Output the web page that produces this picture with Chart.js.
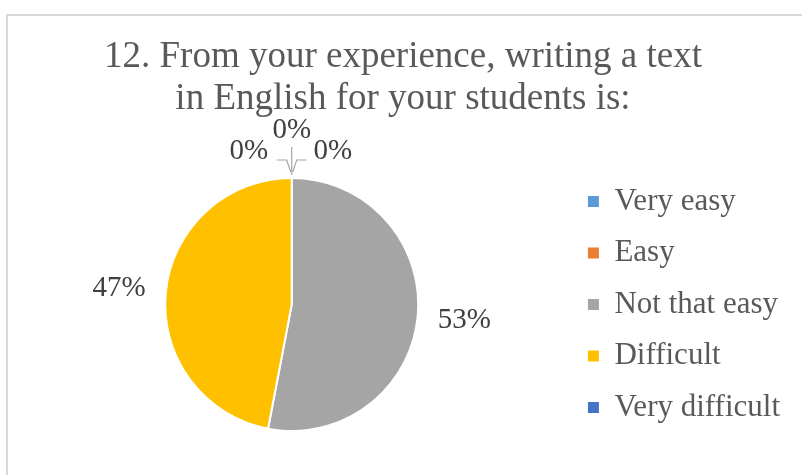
<!DOCTYPE html>
<html>
<head>
<meta charset="utf-8">
<script src="https://cdn.jsdelivr.net/npm/chart.js@4.4.1/dist/chart.umd.min.js"></script>
<style>
  body { margin: 0; background: #fff; overflow: hidden; }
  #frame { position: absolute; left: 6px; top: 14px; width: 900px; height: 600px; border: 2px solid #d9d9d9; box-sizing: border-box; }
  #wrap { position: absolute; left: 0; top: 0; width: 802px; height: 475px; }
</style>
</head>
<body>
<div id="frame"></div>
<div id="wrap"><canvas id="pieChart" width="802" height="475"></canvas></div>
<script>
var titleLines = ['12. From your experience, writing a text', 'in English for your students is:'];
var answers = ['Very easy', 'Easy', 'Not that easy', 'Difficult', 'Very difficult'];
var shares = [0, 0, 53, 47, 0];
var sliceColors = ['#5B9BD5', '#ED7D31', '#A5A5A5', '#FFC000', '#4472C4'];

var serif = '"Times New Roman", "Liberation Serif", serif';

// percent labels outside the pie; empty slices get leader lines at the top
var pieLabels = {
  id: 'pieLabels',
  afterDatasetsDraw: function(chart) {
    var ctx = chart.ctx;
    var meta = chart.getDatasetMeta(0);
    var values = chart.data.datasets[0].data;
    var total = values.reduce(function(a, b) { return a + b; }, 0);
    var zeroSpots = [
      { tx: -43, ty: -27, path: [[-15, -18], [-5, -18], [-1, -6]] },
      { tx: 0, ty: -48, path: [[0, -31], [0, -3]] },
      { tx: 41, ty: -27, path: [[15, -18], [5, -18], [1, -6]] }
    ];
    var z = 0;
    ctx.save();
    ctx.font = '29px ' + serif;
    ctx.textAlign = 'center';
    ctx.textBaseline = 'middle';
    meta.data.forEach(function(arc, i) {
      var p = arc.getProps(['x', 'y', 'startAngle', 'endAngle', 'outerRadius'], true);
      var text = Math.round(values[i] / total * 100) + '%';
      if (values[i] > 0) {
        var mid = (p.startAngle + p.endAngle) / 2;
        var d = p.outerRadius + 47;
        ctx.fillStyle = '#404040';
        ctx.fillText(text, p.x + Math.cos(mid) * d, p.y + Math.sin(mid) * d);
      } else {
        var spot = zeroSpots[z % zeroSpots.length];
        z++;
        var ax = p.x + Math.cos(p.startAngle) * p.outerRadius;
        var ay = p.y + Math.sin(p.startAngle) * p.outerRadius;
        ctx.strokeStyle = '#a6a6a6';
        ctx.lineWidth = 1.2;
        ctx.beginPath();
        spot.path.forEach(function(pt, k) {
          if (k === 0) ctx.moveTo(ax + pt[0], ay + pt[1]);
          else ctx.lineTo(ax + pt[0], ay + pt[1]);
        });
        ctx.stroke();
        ctx.fillStyle = '#404040';
        ctx.fillText(text, ax + spot.tx, ay + spot.ty);
      }
    });
    ctx.restore();
  }
};

const pieCanvas = document.getElementById('pieChart');

let pieChart = new Chart(pieCanvas, {
  type: 'pie',
  data: {
    labels: answers,
    datasets: [
      {
        data: shares,
        backgroundColor: sliceColors,
        borderColor: '#ffffff',
        borderWidth: 2,
        radius: 126.5
      }
    ]
  },
  options: {
    responsive: false,
    animation: false,
    layout: { padding: { left: 16, right: 12, top: 0, bottom: 0 } },
    plugins: {
      title: {
        display: true,
        text: titleLines,
        color: '#595959',
        font: { family: serif, size: 37, weight: 'normal', lineHeight: 1.135 },
        padding: { top: 36, bottom: 14 }
      },
      legend: {
        position: 'right',
        fullSize: false,
        labels: {
          boxWidth: 11,
          boxHeight: 11,
          padding: 20.5,
          color: '#595959',
          font: { family: serif, size: 31 },
          generateLabels: function(chart) {
            var items = Chart.overrides.pie.plugins.legend.labels.generateLabels(chart);
            items.forEach(function(it) { it.lineWidth = 0; it.strokeStyle = 'rgba(0,0,0,0)'; });
            return items;
          }
        }
      },
      tooltip: { enabled: false }
    }
  },
  plugins: [pieLabels]
});
</script>
</body>
</html>
